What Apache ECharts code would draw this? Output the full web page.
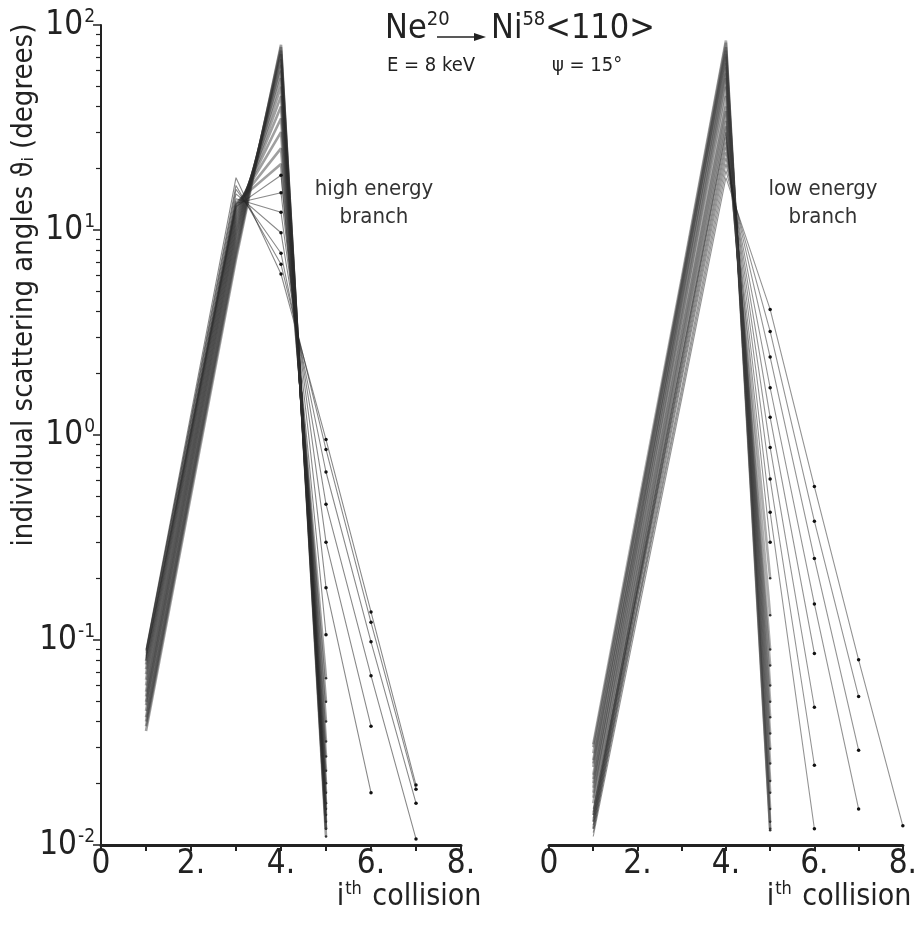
<!DOCTYPE html>
<html><head><meta charset="utf-8">
<script src="https://cdn.jsdelivr.net/npm/echarts@6/dist/echarts.min.js"></script>
<style>html,body{margin:0;padding:0;background:#fff}#c{width:920px;height:928px}</style>
</head><body><div id="c"></div>
<script>
// ---- data ----
const collisions = [1, 2, 3, 4, 5, 6, 7, 8];
const xTickLabels = {0: '0', 2: '2.', 4: '4.', 6: '6.', 8: '8.'};
const yRange = [0.01, 100];

// high energy branch (left panel): scattering angle (deg) at collision 1..n
const leftPeakPaths = [
  [0.036, 0.51, 7.2, 80, 0.011],
  [0.038, 0.54, 7.6, 78, 0.012],
  [0.040, 0.57, 8.0, 75, 0.012],
  [0.042, 0.59, 8.4, 72, 0.013],
  [0.045, 0.63, 8.9, 68, 0.014],
  [0.048, 0.67, 9.4, 64, 0.015],
  [0.050, 0.70, 9.8, 60, 0.016],
  [0.053, 0.74, 10.3, 55, 0.018],
  [0.056, 0.78, 10.8, 50, 0.020],
  [0.060, 0.82, 11.3, 45, 0.023],
  [0.064, 0.87, 11.8, 40, 0.027],
  [0.068, 0.92, 12.3, 35, 0.032],
  [0.072, 0.96, 12.8, 30, 0.040],
  [0.076, 1.00, 13.2, 25, 0.050],
  [0.079, 1.04, 13.6, 21, 0.065]
];
const leftFanPaths = [
  [0.080, 1.02, 13.0, 18.5, 0.106],
  [0.082, 1.05, 13.5, 15.2, 0.18, 0.018],
  [0.084, 1.09, 14.2, 12.2, 0.30, 0.038],
  [0.086, 1.14, 15.0, 9.7, 0.46, 0.067, 0.0107],
  [0.088, 1.18, 15.8, 7.7, 0.66, 0.098, 0.016],
  [0.089, 1.21, 16.5, 6.8, 0.85, 0.122, 0.0187],
  [0.090, 1.27, 18.0, 6.1, 0.95, 0.137, 0.0196]
];

// low energy branch (right panel)
const rightPeakPaths = [
  [0.031, 0.43, 5.8, 84, 0.012],
  [0.028, 0.40, 5.6, 82, 0.013],
  [0.025, 0.37, 5.3, 78, 0.0118],
  [0.022, 0.33, 5.0, 75, 0.015],
  [0.030, 0.40, 5.4, 72, 0.018],
  [0.020, 0.30, 4.6, 70, 0.0205],
  [0.026, 0.35, 4.8, 65, 0.025],
  [0.018, 0.27, 4.1, 62, 0.0295],
  [0.024, 0.32, 4.3, 58, 0.035],
  [0.016, 0.24, 3.6, 55, 0.042],
  [0.021, 0.28, 3.7, 50, 0.050],
  [0.014, 0.21, 3.1, 45, 0.060],
  [0.019, 0.24, 3.1, 40, 0.075],
  [0.013, 0.19, 2.7, 38, 0.090],
  [0.017, 0.21, 2.7, 34, 0.132],
  [0.012, 0.17, 2.3, 32, 0.20]
];
const rightFanPaths = [
  [0.011, 0.13, 1.5, 18, 4.1, 0.56, 0.080, 0.0124],
  [0.0115, 0.14, 1.6, 19.5, 3.2, 0.38, 0.053],
  [0.012, 0.145, 1.7, 21, 2.4, 0.25, 0.029],
  [0.0125, 0.15, 1.85, 22.5, 1.7, 0.15, 0.015],
  [0.013, 0.16, 1.95, 24, 1.22, 0.086],
  [0.0135, 0.17, 2.05, 25.5, 0.87, 0.047],
  [0.014, 0.175, 2.15, 27, 0.61, 0.0245],
  [0.0145, 0.18, 2.3, 28.5, 0.42, 0.012],
  [0.015, 0.19, 2.4, 30, 0.30]
];

// ---- chart ----
const FONT = "'Liberation Sans Narrow','DejaVu Sans Condensed',sans-serif";
const INK = '#222';
const chart = echarts.init(document.getElementById('c'), null, {renderer: 'canvas'});

const series = [];
function addGroup(paths, gi, st) {
  paths.forEach(p => series.push({
    type: 'line', xAxisIndex: gi, yAxisIndex: gi,
    data: p.map((v, i) => [collisions[i], v]),
    symbol: 'circle', showSymbol: true,
    symbolSize: d => (d[0] >= st.dotsFrom ? st.sym : 0),
    lineStyle: {color: st.color, width: st.width},
    itemStyle: {color: st.dot},
    animation: false, silent: true, z: st.z
  }));
}
const leftPeakStyle = {color: 'rgba(45,45,45,0.45)', width: 2.6, sym: 2.5, dot: '#333', z: 2, dotsFrom: 5};
const leftFanStyle = {color: 'rgba(40,40,40,0.55)', width: 1.1, sym: 3.5, dot: '#111', z: 3, dotsFrom: 4};
const rightPeakStyle = {color: 'rgba(60,60,60,0.42)', width: 2.6, sym: 2.5, dot: '#333', z: 2, dotsFrom: 5};
const rightFanStyle = {color: 'rgba(40,40,40,0.5)', width: 1.1, sym: 3.5, dot: '#111', z: 3, dotsFrom: 5};
addGroup(leftPeakPaths, 0, leftPeakStyle);
addGroup(leftFanPaths, 0, leftFanStyle);
addGroup(rightPeakPaths, 1, rightPeakStyle);
addGroup(rightFanPaths, 1, rightFanStyle);

function xAxis(gi) {
  return {
    type: 'value', gridIndex: gi, min: 0, max: 8, interval: 1,
    axisLine: {show: true, onZero: false, lineStyle: {color: INK, width: 3}},
    axisTick: {show: true, length: 6, lineStyle: {color: INK, width: 2}},
    splitLine: {show: false},
    axisLabel: {
      formatter: v => xTickLabels[v] !== undefined ? xTickLabels[v] : '',
      fontFamily: FONT, fontSize: 33, color: INK, margin: 3
    }
  };
}
function yAxis(gi, visible) {
  return {
    type: 'log', logBase: 10, gridIndex: gi, min: yRange[0], max: yRange[1], show: visible,
    axisLine: {show: true, lineStyle: {color: INK, width: 2}},
    axisTick: {show: true, length: 8, lineStyle: {color: INK, width: 1.5}},
    minorTick: {show: true, splitNumber: 9, length: 5, lineStyle: {color: INK, width: 1.2}},
    splitLine: {show: false}, minorSplitLine: {show: false},
    axisLabel: {
      margin: 6,
      formatter: v => '{b|10}{e|' + Math.round(Math.log10(v)) + '}',
      rich: {
        b: {fontFamily: FONT, fontSize: 33, color: INK},
        e: {fontFamily: FONT, fontSize: 19, color: INK, padding: [0, 0, 16, 1]}
      }
    }
  };
}

chart.setOption({
  animation: false,
  backgroundColor: '#fff',
  grid: [
    {left: 101, top: 25, width: 360, height: 820},
    {left: 549, top: 25, width: 357, height: 820}
  ],
  xAxis: [xAxis(0), xAxis(1)],
  yAxis: [yAxis(0, true), yAxis(1, false)],
  series: series,
  graphic: [
    {type: 'text', left: 385, top: 10, style: {
      text: 'Ne{s|20}', font: '34px ' + FONT, fill: INK,
      rich: {s: {fontFamily: FONT, fontSize: 20, fill: INK, padding: [0, 0, 18, 0]}}}},
    {type: 'line', shape: {x1: 437, y1: 37, x2: 478, y2: 37}, style: {stroke: INK, lineWidth: 1.5}},
    {type: 'polygon', shape: {points: [[486, 37], [474, 33], [474, 41]]}, style: {fill: INK}},
    {type: 'text', left: 491, top: 10, style: {
      text: 'Ni{s|58}<110>', font: '34px ' + FONT, fill: INK,
      rich: {s: {fontFamily: FONT, fontSize: 20, fill: INK, padding: [0, 0, 18, 0]}}}},
    {type: 'text', left: 387, top: 56, style: {text: 'E = 8 keV', font: '20px ' + FONT, fill: INK}},
    {type: 'text', left: 552, top: 56, style: {text: 'ψ = 15°', font: '20px ' + FONT, fill: INK}},
    {type: 'text', x: 374, y: 203, style: {text: 'high energy\nbranch', font: '22px ' + FONT, fill: '#333',
      align: 'center', verticalAlign: 'middle', lineHeight: 28}},
    {type: 'text', x: 823, y: 203, style: {text: 'low energy\nbranch', font: '22px ' + FONT, fill: '#333',
      align: 'center', verticalAlign: 'middle', lineHeight: 28}},
    {type: 'text', x: 409, y: 897, style: {text: 'i{s|th} collision', font: '30px ' + FONT, fill: INK,
      align: 'center', verticalAlign: 'middle',
      rich: {s: {fontFamily: FONT, fontSize: 18, fill: INK, padding: [0, 2, 16, 1]}}}},
    {type: 'text', x: 839, y: 897, style: {text: 'i{s|th} collision', font: '30px ' + FONT, fill: INK,
      align: 'center', verticalAlign: 'middle',
      rich: {s: {fontFamily: FONT, fontSize: 18, fill: INK, padding: [0, 2, 16, 1]}}}},
    {type: 'text', x: 24, y: 285, rotation: Math.PI / 2, style: {
      text: 'individual scattering angles ϑ{s|i} (degrees)', font: '29px ' + FONT, fill: INK,
      align: 'center', verticalAlign: 'middle',
      rich: {s: {fontFamily: FONT, fontSize: 16, fill: INK, padding: [10, 0, 0, 0]}}}}
  ]
});
</script></body></html>
